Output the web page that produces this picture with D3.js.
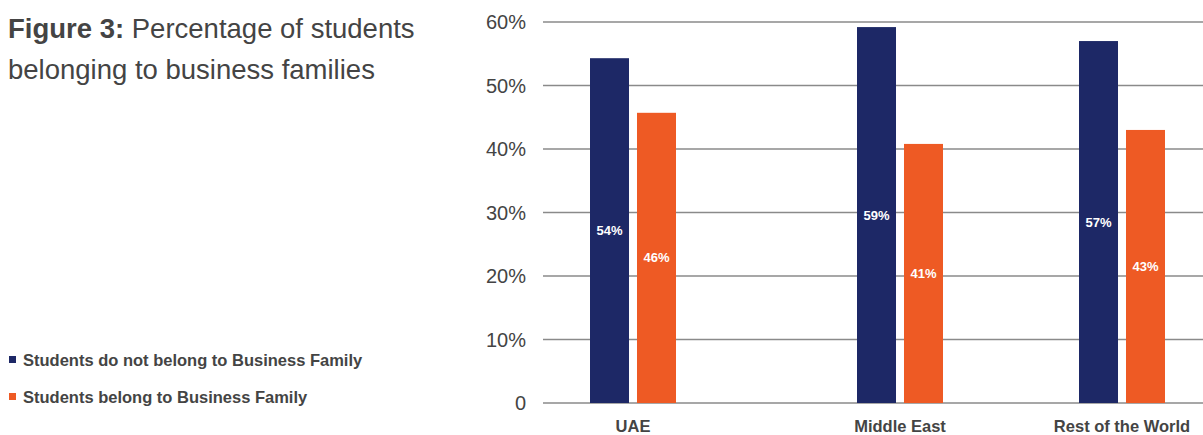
<!DOCTYPE html>
<html>
<head>
<meta charset="UTF-8">
<title>Figure 3</title>
<script src="https://cdn.jsdelivr.net/npm/d3@7"></script>
<style>
  body { margin: 0; background: #fff; }
  svg { display: block; font-family: "Liberation Sans", Arial, sans-serif; }
</style>
</head>
<body>
<svg id="chart" width="1203" height="435"></svg>
<script>
// chart data
var categories = ["UAE", "Middle East", "Rest of the World"];
var seriesNames = ["Students do not belong to Business Family", "Students belong to Business Family"];
var notBusiness = [0.543, 0.592, 0.57];
var business = [0.457, 0.408, 0.43];
var yTicks = [0, 0.1, 0.2, 0.3, 0.4, 0.5, 0.6];

var colors = ["#1d2866", "#ee5a24"];
var textColor = "#444";

var svg = d3.select("#chart");

// layout
var plotLeft = 543, plotRight = 1203;
var plotTop = 22, plotBottom = 403;

var y = d3.scaleLinear().domain([0, 0.6]).range([plotBottom, plotTop]);

// group centres are not evenly spaced in the original
var x = d3.scaleOrdinal().domain(categories).range([633, 900, 1122]);
var inner = d3.scaleBand().domain([0, 1]).range([-43, 43]).paddingInner(0.17);

var fmt = function(v) { return v === 0 ? "0" : d3.format(".0%")(v); };

// gridlines + tick labels
var grid = svg.append("g");
grid.selectAll("line").data(yTicks).join("line")
    .attr("x1", plotLeft).attr("x2", plotRight)
    .attr("y1", function(d) { return y(d); })
    .attr("y2", function(d) { return y(d); })
    .attr("stroke", "#8a8a8a").attr("stroke-width", 1.5);
grid.selectAll("text").data(yTicks).join("text")
    .attr("x", 526).attr("y", function(d) { return y(d); })
    .attr("dy", "0.35em")
    .attr("text-anchor", "end")
    .attr("font-size", 20)
    .attr("fill", textColor)
    .text(fmt);

// bars
var rows = categories.map(function(c, i) { return { cat: c, vals: [notBusiness[i], business[i]] }; });

var groups = svg.selectAll("g.grp").data(rows).join("g")
    .attr("class", "grp")
    .attr("transform", function(d) { return "translate(" + x(d.cat) + ",0)"; });

groups.selectAll("rect").data(function(d) { return d.vals; }).join("rect")
    .attr("x", function(d, i) { return inner(i); })
    .attr("width", inner.bandwidth())
    .attr("y", function(d) { return y(d); })
    .attr("height", function(d) { return y(0) - y(d); })
    .attr("fill", function(d, i) { return colors[i]; });

groups.selectAll("text.val").data(function(d) { return d.vals; }).join("text")
    .attr("class", "val")
    .attr("x", function(d, i) { return inner(i) + inner.bandwidth() / 2; })
    .attr("y", function(d) { return (y(d) + y(0)) / 2; })
    .attr("dy", "0.35em")
    .attr("text-anchor", "middle")
    .attr("font-size", 13)
    .attr("font-weight", "bold")
    .attr("fill", "#fff")
    .text(function(d) { return d3.format(".0%")(d); });

// category labels
svg.selectAll("text.cat").data(categories).join("text")
    .attr("class", "cat")
    .attr("x", function(d) { return x(d); })
    .attr("y", 432)
    .attr("text-anchor", "middle")
    .attr("font-size", 16.5)
    .attr("font-weight", "bold")
    .attr("fill", textColor)
    .text(function(d) { return d; });

// title
var title = svg.append("text")
    .attr("x", 8).attr("font-size", 27.5).attr("fill", textColor);
var l1 = title.append("tspan").attr("x", 8).attr("y", 38);
l1.append("tspan").attr("font-weight", "bold").text("Figure 3:");
l1.append("tspan").text(" Percentage of students");
title.append("tspan").attr("x", 8).attr("y", 79).text("belonging to business families");

// legend
var legend = svg.selectAll("g.leg").data(seriesNames).join("g")
    .attr("class", "leg")
    .attr("transform", function(d, i) { return "translate(9," + (360 + i * 37) + ")"; });
legend.append("rect")
    .attr("x", 0).attr("y", -4).attr("width", 7).attr("height", 7)
    .attr("fill", function(d, i) { return colors[i]; });
legend.append("text")
    .attr("x", 14).attr("dy", "0.35em")
    .attr("font-size", 16.5).attr("font-weight", "bold")
    .attr("fill", textColor)
    .text(function(d) { return d; });
</script>
</body>
</html>
